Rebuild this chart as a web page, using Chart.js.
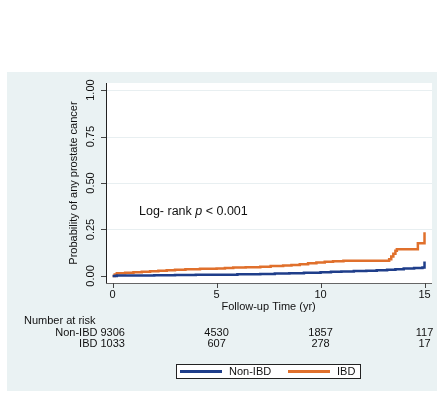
<!DOCTYPE html>
<html>
<head>
<meta charset="utf-8">
<script src="https://cdn.jsdelivr.net/npm/chart.js@4"></script>
<style>
    body { margin: 0; background: #ffffff; }
</style>
</head>
<body>
<canvas id="kmChart" width="447" height="393"></canvas>
<script>
// Kaplan-Meier style cumulative incidence
const nonIbdTime = [0, 0.2, 1.0, 2.0, 3.0, 4.0, 5.0, 6.0, 7.1, 7.8, 8.5, 9.2, 10.0, 10.5, 11.0, 11.6, 12.2, 12.7, 13.2, 13.6, 14.0, 14.5, 14.9, 15.0];
const nonIbdProb = [0, 0.002, 0.003, 0.004, 0.005, 0.006, 0.007, 0.009, 0.011, 0.013, 0.015, 0.017, 0.020, 0.022, 0.024, 0.026, 0.028, 0.030, 0.033, 0.036, 0.040, 0.043, 0.046, 0.077];

const ibdTime = [0, 0.1, 0.2, 0.6, 1.0, 1.4, 1.8, 2.2, 2.6, 3.0, 3.5, 4.2, 5.0, 5.4, 5.8, 6.4, 7.1, 7.6, 8.2, 8.6, 9.0, 9.4, 9.8, 10.2, 10.6, 11.1, 13.3, 13.4, 13.5, 13.6, 13.67, 14.68, 15.0];
const ibdProb = [0, 0.008, 0.014, 0.017, 0.020, 0.023, 0.025, 0.028, 0.031, 0.033, 0.036, 0.038, 0.040, 0.043, 0.045, 0.047, 0.050, 0.053, 0.056, 0.059, 0.063, 0.068, 0.072, 0.076, 0.079, 0.082, 0.090, 0.105, 0.120, 0.135, 0.143, 0.176, 0.235];

const xTicks = [0, 5, 10, 15];
const yTicks = [0, 0.25, 0.5, 0.75, 1];
const yTickLabels = ['0.00', '0.25', '0.50', '0.75', '1.00'];

const groups = ['Non-IBD', 'IBD'];
const riskNonIbd = [9306, 4530, 1857, 117];
const riskIbd = [1033, 607, 278, 17];

const navy = '#1f3e8a';
const orange = '#e0702c';
const font = '"Liberation Sans", Arial, sans-serif';

function toPoints(times, probs) {
    return times.map((t, i) => ({ x: t, y: probs[i] }));
}

const stataFrame = {
    id: 'stataFrame',
    beforeDraw(chart) {
        const ctx = chart.ctx;
        const a = chart.chartArea;
        const xs = chart.scales.x;
        const ys = chart.scales.y;
        ctx.save();
        ctx.fillStyle = '#ffffff';
        ctx.fillRect(0, 0, chart.width, chart.height);
        ctx.fillStyle = '#eaf2f3';
        ctx.fillRect(7, 72, 430, 319);
        ctx.fillStyle = '#ffffff';
        ctx.fillRect(a.left, a.top, a.right - a.left, a.bottom - a.top);

        // grid
        ctx.strokeStyle = '#e8eff1';
        ctx.lineWidth = 1;
        yTicks.forEach(v => {
            if (v === 0) return;
            const y = Math.round(ys.getPixelForValue(v)) + 0.5;
            ctx.beginPath();
            ctx.moveTo(a.left, y);
            ctx.lineTo(a.right, y);
            ctx.stroke();
        });

        // axes
        ctx.strokeStyle = '#222222';
        ctx.beginPath();
        ctx.moveTo(a.left + 0.5, a.top);
        ctx.lineTo(a.left + 0.5, a.bottom);
        ctx.stroke();
        ctx.strokeStyle = '#666666';
        ctx.beginPath();
        ctx.moveTo(a.left, a.bottom + 0.5);
        ctx.lineTo(a.right, a.bottom + 0.5);
        ctx.stroke();

        // tick marks
        ctx.strokeStyle = '#444444';
        yTicks.forEach(v => {
            const y = Math.round(ys.getPixelForValue(v)) + 0.5;
            ctx.beginPath();
            ctx.moveTo(a.left - 5, y);
            ctx.lineTo(a.left, y);
            ctx.stroke();
        });
        xTicks.forEach(v => {
            const x = Math.round(xs.getPixelForValue(v)) + 0.5;
            ctx.beginPath();
            ctx.moveTo(x, a.bottom);
            ctx.lineTo(x, a.bottom + 5);
            ctx.stroke();
        });

        ctx.fillStyle = '#111111';
        ctx.font = '11px ' + font;
        ctx.textBaseline = 'middle';

        // y tick labels, rotated like Stata
        yTicks.forEach((v, i) => {
            ctx.save();
            ctx.translate(91, ys.getPixelForValue(v));
            ctx.rotate(-Math.PI / 2);
            ctx.textAlign = 'center';
            ctx.fillText(yTickLabels[i], 0, 0);
            ctx.restore();
        });

        // y title
        ctx.save();
        ctx.translate(74, (ys.getPixelForValue(0) + ys.getPixelForValue(1)) / 2);
        ctx.rotate(-Math.PI / 2);
        ctx.textAlign = 'center';
        ctx.fillText('Probability of any prostate cancer', 0, 0);
        ctx.restore();

        // x tick labels and title
        ctx.textAlign = 'center';
        xTicks.forEach(v => {
            ctx.fillText(String(v), xs.getPixelForValue(v), 295);
        });
        ctx.fillText('Follow-up Time (yr)', (xs.getPixelForValue(0) + xs.getPixelForValue(15)) / 2, 307);

        // number at risk table
        ctx.textAlign = 'left';
        ctx.fillText('Number at risk', 24, 321);
        [riskNonIbd, riskIbd].forEach((row, r) => {
            const y = 333 + r * 11;
            ctx.textAlign = 'center';
            row.forEach((n, i) => {
                ctx.fillText(String(n), xs.getPixelForValue(xTicks[i]), y);
            });
            ctx.textAlign = 'right';
            const half = ctx.measureText(String(row[0])).width / 2;
            ctx.fillText(groups[r], xs.getPixelForValue(0) - half - 3, y);
        });

        // legend
        ctx.fillStyle = '#ffffff';
        ctx.fillRect(176, 364, 185, 15);
        ctx.strokeStyle = '#222222';
        ctx.strokeRect(176.5, 364.5, 184, 14);
        ctx.lineWidth = 3;
        ctx.strokeStyle = navy;
        ctx.beginPath();
        ctx.moveTo(180, 371.5);
        ctx.lineTo(222, 371.5);
        ctx.stroke();
        ctx.strokeStyle = orange;
        ctx.beginPath();
        ctx.moveTo(288, 371.5);
        ctx.lineTo(330, 371.5);
        ctx.stroke();
        ctx.fillStyle = '#111111';
        ctx.textAlign = 'left';
        ctx.fillText(groups[0], 229, 371.5);
        ctx.fillText(groups[1], 337, 371.5);

        ctx.restore();
    },
    afterDatasetsDraw(chart) {
        const ctx = chart.ctx;
        ctx.save();
        ctx.fillStyle = '#111111';
        ctx.textBaseline = 'middle';
        ctx.textAlign = 'left';
        let x = 139;
        const y = 212;
        ctx.font = '12.5px ' + font;
        ctx.fillText('Log- rank ', x, y);
        x += ctx.measureText('Log- rank ').width;
        ctx.font = 'italic 12.5px ' + font;
        ctx.fillText('p', x, y);
        x += ctx.measureText('p').width;
        ctx.font = '12.5px ' + font;
        ctx.fillText(' < 0.001', x, y);
        ctx.restore();
    }
};

const ctx = document.getElementById('kmChart').getContext('2d');
new Chart(ctx, {
    type: 'line',
    data: {
        datasets: [{
            label: groups[0],
            data: toPoints(nonIbdTime, nonIbdProb),
            borderColor: navy,
            borderWidth: 2.5,
            stepped: true,
            pointRadius: 0,
            fill: false
        }, {
            label: groups[1],
            data: toPoints(ibdTime, ibdProb),
            borderColor: orange,
            borderWidth: 2.5,
            stepped: true,
            pointRadius: 0,
            fill: false
        }]
    },
    options: {
        responsive: false,
        animation: false,
        layout: {
            padding: { left: 106, right: 15, top: 83, bottom: 110 }
        },
        scales: {
            x: { type: 'linear', min: -0.32, max: 15.36, display: false },
            y: { min: -0.038, max: 1.038, display: false }
        },
        plugins: {
            legend: { display: false },
            tooltip: { enabled: false }
        }
    },
    plugins: [stataFrame]
});
</script>
</body>
</html>
